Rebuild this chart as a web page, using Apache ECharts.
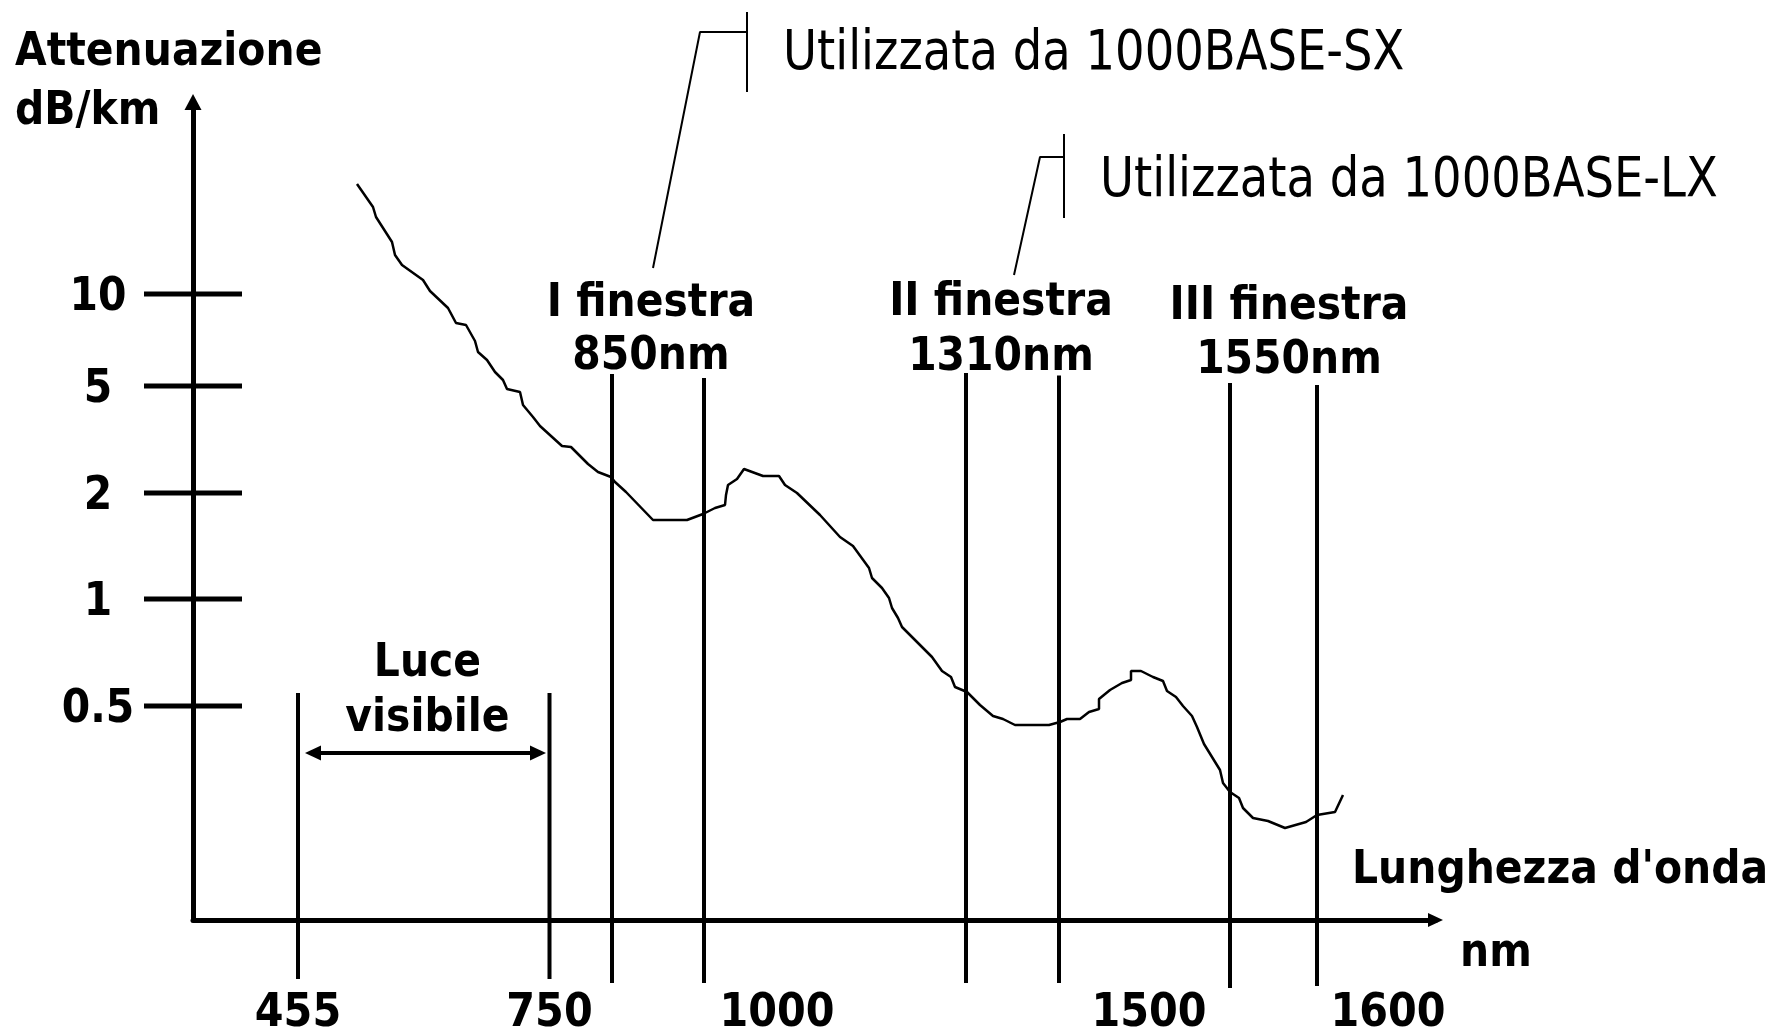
<!DOCTYPE html>
<html><head><meta charset="utf-8">
<script src="https://cdn.jsdelivr.net/npm/echarts@6.0.0/dist/echarts.min.js"></script>
<style>html,body{margin:0;padding:0;background:#fff}#c{width:1784px;height:1031px}</style>
</head><body><div id="c"></div>
<script>
// Schematic diagram: both axes are in arbitrary "diagram units" (not to scale)
const curveX = [164,180,183,199,202,209,230,237,255,263,273,282,285,294,302,310,314,327,330,340,347,369,378,395,405,418,422,433,460,494,510,522,532,533,535,544,551,570,586,592,604,627,647,660,676,679,689,696,699,705,709,739,749,758,762,774,787,800,810,822,856,867,874,887,896,906,906,917,929,938,938,948,960,970,974,983,990,999,1004,1011,1027,1030,1037,1046,1050,1060,1075,1092,1113,1124,1142,1150];
const curveY = [736,713,703,678,665,655,640,629,612,597,595,579,568,560,548,540,531,528,515,503,494,474,473,456,448,443,438,428,400,400,406,412,415,425,435,441,451,444,444,435,427,405,383,374,352,342,332,322,312,302,293,263,249,243,233,228,215,204,201,195,195,198,201,201,208,211,221,230,237,240,249,249,243,239,229,223,214,204,193,176,150,137,128,122,112,102,99,92,98,105,108,125];

const yTickPos = [626, 534, 427, 321, 214];
const yTickLabels = ['10', '5', '2', '1', '0.5'];
const xTickPos = [105, 356.5, 584, 956, 1195];
const xTickLabels = ['455', '750', '1000', '1500', '1600'];

const vLineX = [105, 356.5, 419, 511, 773, 866, 1037, 1124];
const vLineTop = [227, 227, 546, 542, 547, 544.5, 537, 535];
const vLineBottom = [-59, -59, -63, -63, -63, -63, -68, -66];

const windowLabels = ['I finestra', '850nm', 'II finestra', '1310nm', 'III finestra', '1550nm', 'Luce', 'visibile'];
const windowLabelX = [458, 458, 808, 808, 1096, 1096, 234.5, 234.5];
const windowLabelY = [616, 563, 617, 562, 613, 559, 256, 201];

const usageLabels = ['Utilizzata da 1000BASE-SX', 'Utilizzata da 1000BASE-LX'];
const usageLabelX = [590, 907];
const usageLabelY = [866, 739];

const axisTitles = ['Attenuazione', 'dB/km', "Lunghezza d'onda"];
const axisTitleX = [-178, -178, 1159];
const axisTitleY = [867, 808, 49];
const unitLabel = ['nm'];
const unitLabelX = [1303];
const unitLabelY = [-34];

const leaderSXx = [460, 507, 554];
const leaderSXy = [652, 888, 888];
const barSXx = [554, 554];
const barSXy = [908, 828];
const leaderLXx = [821, 847, 871];
const leaderLXy = [645, 763, 763];
const barLXx = [871, 871];
const barLXy = [786, 702];

const visibleArrowX = [112, 353];
const visibleArrowY = [167, 167];

const zip = (a, b) => a.map((v, i) => [v, b[i]]);
const FONT = 'DejaVu Sans';

function textSeries(texts, xs, ys, opts) {
  return {
    type: 'custom', coordinateSystem: 'cartesian2d', clip: false, silent: true,
    encode: { x: 0, y: 1 },
    data: xs.map((x, i) => [x, ys[i]]),
    renderItem: function (params, api) {
      const p = api.coord([api.value(0), api.value(1)]);
      return {
        type: 'text', x: p[0] + (opts.dx || 0), y: p[1] + (opts.dy || 0), scaleX: opts.scaleX,
        style: {
          text: texts[params.dataIndex], fontSize: opts.fontSize, fontWeight: opts.fontWeight,
          fontFamily: FONT, fill: '#000', align: opts.align, verticalAlign: 'middle'
        }
      };
    }
  };
}

function lineSeries(xs, ys, w) {
  return {
    type: 'line', data: zip(xs, ys), symbol: 'none', clip: false, silent: true,
    lineStyle: { color: '#000', width: w }, animation: false
  };
}

const BOLD = { fontSize: 46, fontWeight: 'bold', scaleX: 0.89 };

const option = {
  animation: false,
  grid: { left: 193, top: 102, right: 348.5, bottom: 111 },
  xAxis: {
    type: 'value', min: 0, max: 1242.5,
    axisLine: { show: true, symbol: ['none', 'triangle'], symbolSize: [14, 15], lineStyle: { color: '#000', width: 5 } },
    axisTick: { show: false }, axisLabel: { show: false }, splitLine: { show: false }
  },
  yAxis: {
    type: 'value', min: 0, max: 818,
    axisLine: { show: true, symbol: ['none', 'triangle'], symbolSize: [17, 16], lineStyle: { color: '#000', width: 5 } },
    axisTick: { show: false }, axisLabel: { show: false }, splitLine: { show: false }
  },
  series: [
    // attenuation curve
    lineSeries(curveX, curveY, 2.5),
    // vertical window / visible-light lines
    {
      type: 'custom', coordinateSystem: 'cartesian2d', clip: false, silent: true,
      encode: { x: 0, y: [1, 2] },
      data: vLineX.map((x, i) => [x, vLineTop[i], vLineBottom[i]]),
      renderItem: function (params, api) {
        const a = api.coord([api.value(0), api.value(1)]);
        const b = api.coord([api.value(0), api.value(2)]);
        return { type: 'line', shape: { x1: a[0], y1: a[1], x2: b[0], y2: b[1] }, style: { stroke: '#000', lineWidth: 4 } };
      }
    },
    // y ticks crossing the axis
    {
      type: 'custom', coordinateSystem: 'cartesian2d', clip: false, silent: true,
      encode: { x: 0, y: 1 },
      data: yTickPos.map(v => [0, v]),
      renderItem: function (params, api) {
        const p = api.coord([api.value(0), api.value(1)]);
        return { type: 'line', shape: { x1: p[0] - 49, y1: p[1], x2: p[0] + 49, y2: p[1] }, style: { stroke: '#000', lineWidth: 5 } };
      }
    },
    // leader lines
    lineSeries(leaderSXx, leaderSXy, 2),
    lineSeries(barSXx, barSXy, 2),
    lineSeries(leaderLXx, leaderLXy, 2),
    lineSeries(barLXx, barLXy, 2),
    // visible light double arrow
    {
      type: 'custom', coordinateSystem: 'cartesian2d', clip: false, silent: true,
      encode: { x: 0, y: 1 },
      data: [[visibleArrowX[0], visibleArrowY[0], visibleArrowX[1], visibleArrowY[1]]],
      renderItem: function (params, api) {
        const a = api.coord([api.value(0), api.value(1)]);
        const b = api.coord([api.value(2), api.value(3)]);
        const L = 16, H = 7.5;
        return {
          type: 'group', children: [
            { type: 'line', shape: { x1: a[0] + 8, y1: a[1], x2: b[0] - 8, y2: b[1] }, style: { stroke: '#000', lineWidth: 4 } },
            { type: 'polygon', shape: { points: [[a[0], a[1]], [a[0] + L, a[1] - H], [a[0] + L, a[1] + H]] }, style: { fill: '#000' } },
            { type: 'polygon', shape: { points: [[b[0], b[1]], [b[0] - L, b[1] - H], [b[0] - L, b[1] + H]] }, style: { fill: '#000' } }
          ]
        };
      }
    },
    // tick labels
    textSeries(yTickLabels, yTickPos.map(() => 0), yTickPos.map(v => v - 4), Object.assign({ align: 'center', dx: -95 }, BOLD)),
    textSeries(xTickLabels, xTickPos, xTickPos.map(() => 0), { fontSize: 47, fontWeight: 'bold', align: 'center', scaleX: 0.88, dy: 94 }),
    // annotations
    textSeries(windowLabels, windowLabelX, windowLabelY, Object.assign({ align: 'center' }, BOLD)),
    textSeries(usageLabels, usageLabelX, usageLabelY, { fontSize: 56, fontWeight: 'normal', align: 'left', scaleX: 0.83 }),
    textSeries(axisTitles, axisTitleX, axisTitleY, Object.assign({ align: 'left' }, BOLD)),
    textSeries(unitLabel, unitLabelX, unitLabelY, Object.assign({ align: 'center' }, BOLD))
  ]
};

const chart = echarts.init(document.getElementById('c'), null, { renderer: 'canvas' });
chart.setOption(option);
</script>
</body></html>
